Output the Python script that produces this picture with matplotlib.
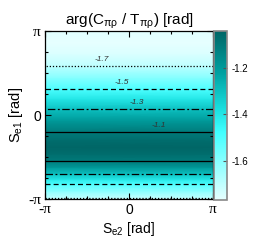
import numpy as np
import matplotlib
matplotlib.use("Agg")
import matplotlib.pyplot as plt
from matplotlib.colors import LinearSegmentedColormap, Normalize

# Profile of arg(C/T) along S_e1 (independent of S_e2)
s_e1 = [-3.1416, -3.10, -2.85, -2.58, -2.40, -2.21, -1.95, -1.71, -1.45, -1.20,
        -0.95, -0.65, -0.20, 0.22, 0.60, 0.97, 1.40, 1.84, 2.30, 2.70, 3.1416]
arg_vals = [-1.715, -1.70, -1.61, -1.50, -1.40, -1.30, -1.19, -1.10, -1.06, -1.04,
            -1.06, -1.10, -1.20, -1.30, -1.40, -1.50, -1.60, -1.70, -1.75, -1.77, -1.76]
s_e2 = [-np.pi, np.pi]
levels = [-1.7, -1.5, -1.3, -1.1]
level_labels = ["-1.7", "-1.5", "-1.3", "-1.1"]
label_x = [-1.01, -0.26, 0.30, 1.12]
cb_ticks = [-1.6, -1.4, -1.2]
cb_ticklabels = ["-1.6", "-1.4", "-1.2"]
vmin, vmax = -1.77, -1.04

plt.rcParams['font.family'] = ['Liberation Sans', 'DejaVu Sans']

cmap = LinearSegmentedColormap.from_list(
    "tealcyan",
    [(0.0, "#e6ffff"), (0.4, "#40ffff"), (0.55, "#18dcdc"),
     (0.75, "#00a2a2"), (1.0, "#006666")])

fig = plt.figure(figsize=(2.61, 2.45), dpi=100)
ax = fig.add_axes([45/261, 1-199/245, 168/261, 168/245])
cax = fig.add_axes([214/261, 1-200/245, 13/261, 169/245])

X, Y = np.meshgrid(s_e2, s_e1)
Z = np.tile(np.array(arg_vals)[:, None], (1, len(s_e2)))
norm = Normalize(vmin=vmin, vmax=vmax)
mesh = ax.pcolormesh(X, Y, Z, cmap=cmap, norm=norm, shading='gouraud')

styles = [(0, (1, 1.5)), (0, (4, 2.5)), (0, (6, 2, 1.5, 2)), 'solid']
ax.contour(X, Y, Z, levels=levels, colors='black', linewidths=0.9,
           linestyles=styles)

# contour labels on upper branch
s_arr = np.array(s_e1)
v_arr = np.array(arg_vals)
upper = s_arr > -1.2
for lev, lab, lx in zip(levels, level_labels, label_x):
    yy = np.interp(lev, v_arr[upper][::-1], s_arr[upper][::-1])
    ax.text(lx, yy + 0.12, lab, fontsize=6, style='italic', color='#333333',
            ha='center', va='bottom')

serif = ['Liberation Serif', 'DejaVu Serif']
ax.set_xlim(-np.pi, np.pi)
ax.set_ylim(-np.pi, np.pi)
ax.set_xticks([-np.pi, 0, np.pi])
ax.set_xticklabels(["-π", "0", "π"], fontsize=10)
ax.set_yticks([-np.pi, 0, np.pi])
ax.set_yticklabels(["-π", "0", "π"], fontsize=10)
for lbl in ax.get_xticklabels() + ax.get_yticklabels():
    if "π" in lbl.get_text():
        lbl.set_family(serif)
        lbl.set_fontsize(11)
ax.set_xticks(np.arange(-np.pi, np.pi + 0.01, np.pi/4), minor=True)
ax.set_yticks(np.arange(-np.pi, np.pi + 0.01, np.pi/4), minor=True)
ax.tick_params(which='both', direction='in', top=True, right=True, width=0.8)
ax.tick_params(which='major', length=4, pad=3)
ax.tick_params(which='minor', length=2.5)
for sp in ax.spines.values():
    sp.set_linewidth(0.9)

ax.set_xlabel("S$_{\\mathregular{e2}}$ [rad]", fontsize=10, labelpad=2)
ax.set_ylabel("S$_{\\mathregular{e1}}$ [rad]", fontsize=10.5, labelpad=2)
ax.set_title("arg(C$_{\\mathregular{\\pi\\rho}}$ / T$_{\\mathregular{\\pi\\rho}}$) [rad]",
             fontsize=11, pad=5)

cb = fig.colorbar(mesh, cax=cax)
cb.set_ticks(cb_ticks)
cb.set_ticklabels(cb_ticklabels)
cax.tick_params(labelsize=7, direction='in', length=3, width=0.8, color='#555555')
cb.outline.set_edgecolor('#888888')
cb.outline.set_linewidth(1.2)

fig.savefig("out.png", dpi=100)
